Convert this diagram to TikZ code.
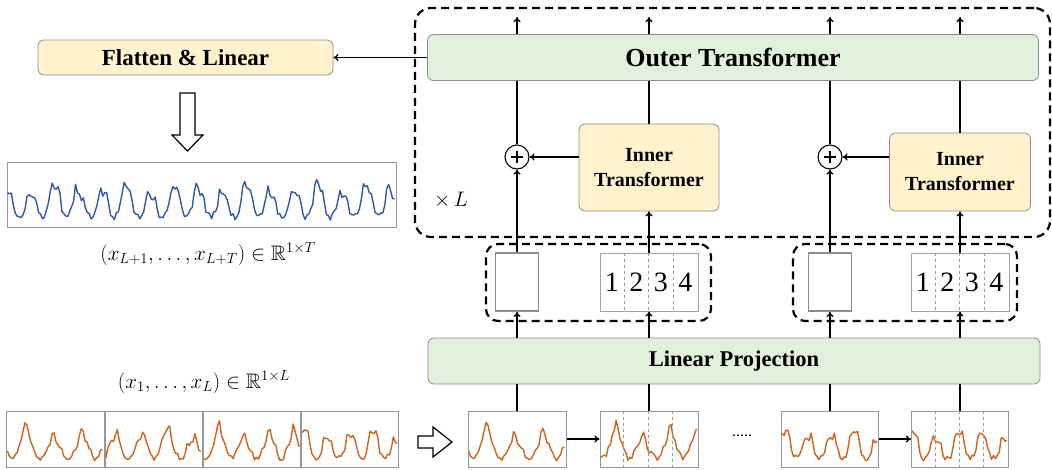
\RequirePackage{fix-cm}
\documentclass[tikz,border=0pt]{standalone}
\usepackage{amsmath,amssymb}
\usepackage[no-math]{fontspec}
\setmainfont{Liberation Serif}
\usetikzlibrary{arrows.meta,positioning,calc}

\definecolor{boxyellow}{HTML}{FFF2CC}
\definecolor{boxgreen}{HTML}{E2EFDA}
\definecolor{edgegray}{HTML}{8C8C8C}
\definecolor{serorange}{HTML}{CC6420}
\definecolor{serblue}{HTML}{2F58A8}

% a jagged daily-cycle curve inside a box: node, colour, width, height, period, phase, seed, samples
\newcommand{\tsplot}[8]{%
  \pgfmathsetseed{#7}%
  \begin{scope}[shift={(#1.north west)}]
    \draw[#2, line width=1.4pt, line join=round]
      plot[domain=1:#3-1, samples=#8]
      (\x, {#4*(0.9 - 0.8*(
          0.6*pow(0.5+0.5*sin(mod(\x/#5,1)*360+#6),1.3)*(0.8+0.2*sin((\x/#5)*137+1.7*#6))
        + 0.22*pow(0.5+0.5*sin(mod(\x/#5,1)*1080+2*#6+40),2)*(0.5+0.5*sin(mod(\x/#5,1)*360+#6))
        + 0.12*rnd))});
  \end{scope}}

\begin{document}
\begin{tikzpicture}[x=1pt,y=-1pt,
  every node/.style={inner sep=0pt},
  >={To[length=5pt,width=7pt]},
  conn/.style={line width=1.3pt},
  yellowbox/.style={draw=edgegray, fill=boxyellow, rounded corners=6pt, line width=0.8pt,
    align=center, font=\bfseries\fontsize{20}{25}\selectfont},
  greenbox/.style={draw=edgegray, fill=boxgreen, rounded corners=6pt, line width=0.8pt},
  tokgroup/.style={draw, line width=2.2pt, dash pattern=on 8pt off 5pt, rounded corners=12pt},
  sumnode/.style={circle, draw, line width=1.1pt, fill=white, minimum size=24pt,
    path picture={\draw[line width=2pt]
      ([xshift=-6pt]path picture bounding box.center) -- ([xshift=6pt]path picture bounding box.center)
      ([yshift=-6pt]path picture bounding box.center) -- ([yshift=6pt]path picture bounding box.center);}},
  clsbox/.style={draw=edgegray, line width=1.8pt, fill=white, minimum width=43pt, minimum height=58pt},
  patchbox/.style={draw=edgegray!80, line width=1pt, fill=white, minimum width=98pt, minimum height=58pt},
  serbox/.style={draw=edgegray!90, line width=1pt, minimum height=56pt},
  divider/.style={draw=gray!80, dashed, line width=0.7pt},
  mathlabel/.style={font=\fontsize{21}{25}\selectfont}]
\useasboundingbox (0,0) rectangle (1052,469);

% encoder layer
\node[tokgroup, rounded corners=16pt, minimum width=635pt, minimum height=229pt] (layer) at (732.5,122.5) {};
\node[greenbox, minimum width=611pt, minimum height=46pt, font=\bfseries\fontsize{26}{30}\selectfont]
  (outer) at (733,57.5) {Outer Transformer};
\node[font=\fontsize{21}{21}\selectfont] (times) at (451,200) {$\times\,L$};

\node[sumnode] (plus1) at (517,157) {};
\node[sumnode] (plus2) at (830,157) {};
\node[yellowbox, minimum width=140pt, minimum height=87pt] (inner1) at (649,167.5) {Inner\\Transformer};
\node[yellowbox, minimum width=141pt, minimum height=78pt] (inner2) at (960,172) {Inner\\Transformer};

% class token + patch tokens
\node[tokgroup, minimum width=225pt, minimum height=77pt] (grp1) at (598.5,282.5) {};
\node[tokgroup, minimum width=224pt, minimum height=77pt] (grp2) at (905,282.5) {};
\node[clsbox] (cls1) at (517,282) {};
\node[clsbox] (cls2) at (830,282) {};
\node[patchbox] (patch1) at (649,282) {};
\node[patchbox] (patch2) at (960,282) {};
\foreach \p in {1,2} {
  \foreach \d in {1,...,4}
    \node[font=\fontsize{28}{28}\selectfont] (patch\p-\d) at ($(patch\p.west)+(\d*24.5-12.25,0)$) {\d};
  \foreach \d in {1,2,3}
    \draw[divider] ($(patch\p.north west)+(\d*24.5,0)$) -- ($(patch\p.south west)+(\d*24.5,0)$);
}

\node[greenbox, minimum width=612pt, minimum height=46pt, font=\bfseries\fontsize{22.5}{27}\selectfont]
  (lin) at (734,361) {Linear Projection};

% input patches
\node[serbox, minimum width=98pt] (sA) at (517,439) {};
\node[serbox, minimum width=98pt] (sB) at (649,439) {};
\node[serbox, minimum width=97pt] (sC) at (830,439) {};
\node[serbox, minimum width=97pt] (sD) at (960,439) {};
\node[font=\fontsize{16}{16}\selectfont] (dots) at (742,436) {.....};
\tsplot{sA}{serorange}{98}{56}{28}{200}{11}{50}
\tsplot{sB}{serorange}{98}{56}{27}{230}{12}{50}
\tsplot{sC}{serorange}{97}{56}{23}{20}{13}{50}
\tsplot{sD}{serorange}{97}{56}{23}{60}{14}{50}
\foreach \s in {sB,sD}
  \foreach \d in {1,2,3}
    \draw[divider] ($(\s.north west)+(\d*24.25,0)$) -- ($(\s.south west)+(\d*24.25,0)$);

% wiring
\foreach \c [count=\i] in {517,649,830,960}
  \coordinate (top\i) at (\c,17);
\foreach \i in {1,...,4}
  \draw[conn,->] (outer.north -| top\i) -- (top\i);
\foreach \g in {1,2} {
  \draw[conn,->] (cls\g.north) -- (plus\g.south);
  \draw[conn] (plus\g.north) -- (outer.south -| plus\g);
  \draw[conn,->] (inner\g.west |- plus\g) -- (plus\g.east);
  \draw[conn,->] (patch\g.north) -- (inner\g.south);
  \draw[conn] (inner\g.north) -- (outer.south -| inner\g);
  \draw[conn,->] (lin.north -| cls\g) -- (cls\g.south);
  \draw[conn,->] (lin.north -| patch\g) -- (patch\g.south);
}
\foreach \s in {sA,sB,sC,sD}
  \draw[conn] (\s.north) -- (lin.south -| \s);
\draw[conn,->] (sA) -- (sB);
\draw[conn,->] (sC) -- (sD);

% forecasting head
\node[yellowbox, minimum width=295pt, minimum height=35pt, font=\bfseries\fontsize{23}{28}\selectfont]
  (flat) at (185.5,57.5) {Flatten \& Linear};
\draw[conn,->] (outer.west) -- (flat.east);
\draw[line width=1.2pt, fill=white] (180,93) -- (195,93) -- (195,135) -- (203,135) -- (187.5,151)
  -- (172,135) -- (180,135) -- cycle;
\node[serbox, minimum width=389pt, minimum height=65pt] (pred) at (201.5,194.5) {};
\tsplot{pred}{serblue}{389}{65}{24}{90}{7}{200}
\node[mathlabel] (ylab) at (208,254) {$(x_{L+1},\dots,x_{L+T})\in\mathbb{R}^{1\times T}$};

% look-back window
\node[mathlabel] (xlab) at (204,382) {$(x_1,\dots,x_L)\in\mathbb{R}^{1\times L}$};
\node[serbox, minimum width=97.25pt] (seg1) at (55.6,439) {};
\node[serbox, minimum width=97.25pt, right=0pt of seg1] (seg2) {};
\node[serbox, minimum width=97.25pt, right=0pt of seg2] (seg3) {};
\node[serbox, minimum width=97.25pt, right=0pt of seg3] (seg4) {};
\tsplot{seg1}{serorange}{97}{56}{28}{200}{11}{50}
\tsplot{seg2}{serorange}{97}{56}{26}{300}{21}{50}
\tsplot{seg3}{serorange}{97}{56}{25}{220}{31}{50}
\tsplot{seg4}{serorange}{97}{56}{23}{40}{41}{50}
\draw[line width=1.2pt, fill=white] (418,436) -- (433,436) -- (433,427) -- (452,442) -- (433,457)
  -- (433,448) -- (418,448) -- cycle;
\end{tikzpicture}
\end{document}
